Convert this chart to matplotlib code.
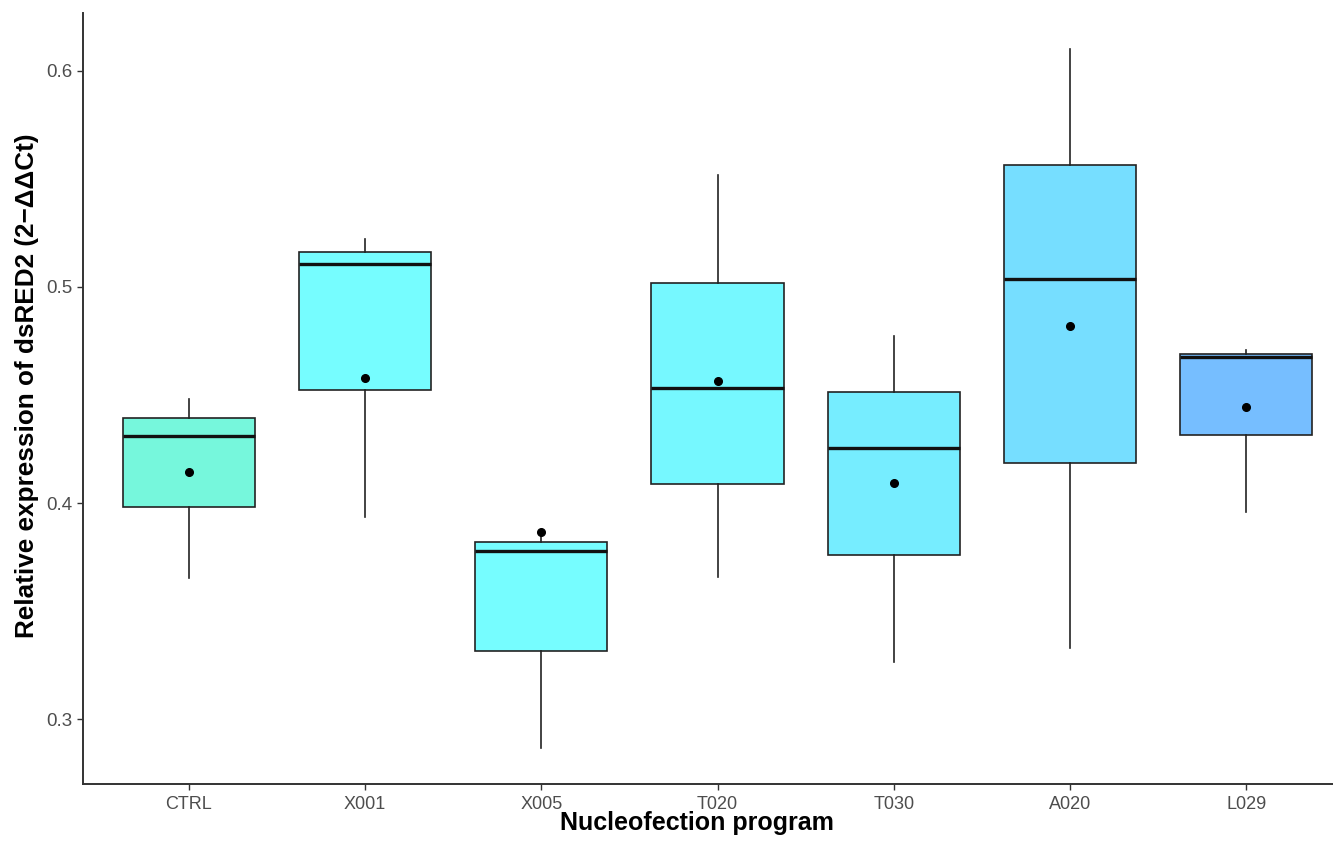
import matplotlib
matplotlib.use("Agg")
import matplotlib.pyplot as plt

plt.rcParams['font.family'] = ['Liberation Sans', 'DejaVu Sans']

# Summary statistics per nucleofection program
programs = ["CTRL", "X001", "X005", "T020", "T030", "A020", "L029"]
whisker_low = [0.3653, 0.3937, 0.2866, 0.3659, 0.3264, 0.3327, 0.3960]
q1 = [0.3981, 0.4523, 0.3315, 0.4089, 0.3759, 0.4184, 0.4316]
median = [0.4310, 0.5108, 0.3779, 0.4534, 0.4256, 0.5037, 0.4677]
q3 = [0.4392, 0.5162, 0.3818, 0.5019, 0.4515, 0.5566, 0.4690]
whisker_high = [0.4481, 0.5221, 0.3852, 0.5519, 0.4773, 0.6100, 0.4708]
mean = [0.4145, 0.4580, 0.3867, 0.4566, 0.4094, 0.4819, 0.4443]
fills = ["#76F7DC", "#76FDFF", "#76FDFF", "#76F8FF", "#76EDFF", "#76DEFF", "#76BEFF"]

W, H = 1333, 848
fig = plt.figure(figsize=(W / 100, H / 100), dpi=100)
ax = fig.add_axes([83 / W, (H - 784) / H, (1352 - 83) / W, (784 - 13) / H])

stats = []
for i, name in enumerate(programs):
    stats.append(dict(label=name, whislo=whisker_low[i], q1=q1[i], med=median[i],
                      q3=q3[i], whishi=whisker_high[i], mean=mean[i], fliers=[]))

positions = list(range(len(programs)))
bp = ax.bxp(stats, positions=positions, widths=0.75, patch_artist=True,
            showmeans=True, showcaps=False, showfliers=False,
            boxprops=dict(edgecolor="#222222", linewidth=1.2),
            whiskerprops=dict(color="#222222", linewidth=1.2),
            medianprops=dict(color="#111111", linewidth=2.4),
            meanprops=dict(marker="o", markerfacecolor="black", markeredgecolor="black",
                           markersize=5.5))
for patch, c in zip(bp["boxes"], fills):
    patch.set_facecolor(c)
for med_line in bp["medians"]:
    med_line.set_zorder(3)

ax.set_xlim(-0.6, 6.6)
ax.set_ylim(0.26991, 0.62685)
ax.set_yticks([0.3, 0.4, 0.5, 0.6])
ax.set_yticklabels(["0.3", "0.4", "0.5", "0.6"])
ax.set_xticks(positions)
ax.set_xticklabels(programs)

for side in ["top", "right"]:
    ax.spines[side].set_visible(False)
for side in ["left", "bottom"]:
    ax.spines[side].set_color("#333333")
    ax.spines[side].set_linewidth(1.4)

ax.tick_params(axis="both", colors="#333333", labelcolor="#4D4D4D",
               length=4.5, width=1.0, labelsize=13)
ax.tick_params(axis="x", pad=4)
ax.tick_params(axis="y", pad=3, labelsize=13.5)

ax.set_xlabel("Nucleofection program", fontsize=18, fontweight="bold", color="black")
ax.set_ylabel("Relative expression of dsRED2 (2\u2212\u0394\u0394Ct)", fontsize=18.8,
              fontweight="bold", color="black")
ax.xaxis.set_label_coords(0.484, -0.0345, transform=ax.transAxes)
ax.yaxis.set_label_coords(-0.044, 0.516, transform=ax.transAxes)
ax.xaxis.label.set_va("top")
ax.yaxis.label.set_va("center")

fig.savefig("out.png", dpi=100, facecolor="white")
